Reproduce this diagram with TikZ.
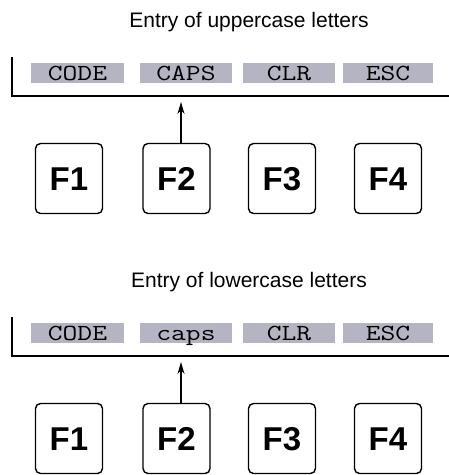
\documentclass[tikz,border=0pt]{standalone}
\usepackage{fontspec}
\setmainfont{Liberation Sans}
\newfontfamily\keyfont{Latin Modern Mono}[FakeStretch=1.25]
\usepackage{tikz}
\usetikzlibrary{arrows.meta}

\begin{document}
\begin{tikzpicture}[>={Stealth[length=12pt,width=7pt]},x=1pt,y=-1pt,
    title/.style={font={\fontsize{21}{24}\selectfont}},
    softkey/.style={rectangle,fill=softgray,inner sep=0pt,minimum height=20pt,
        text height=14pt,text depth=0pt,font={\keyfont\fontsize{23}{26}\selectfont}},
    fkey/.style={rectangle,draw,rounded corners=5pt,line width=1.4pt,inner sep=0pt,
        text height=24pt,text depth=0pt,
        minimum width=67pt,minimum height=70pt,font={\bfseries\fontsize{33}{36}\selectfont}}]
    \definecolor{softgray}{RGB}{181,180,194}
    \useasboundingbox (0,0) rectangle (449,475);
    
    \foreach \p/\dy/\case/\capsname in {u/0/uppercase/CAPS, l/260/lowercase/caps}{
        \node[title] (t\p) at (249,22+\dy) {Entry of \case\ letters};
        
        \foreach \i/\x/\w/\name in {1/77.5/93/CODE, 2/186/92/\capsname, 3/289/92/CLR, 4/388/90/ESC}{
            \node[softkey,minimum width=\w] (s\p\i) at (\x,73+\dy){\name};
        }
        
        \foreach \i/\x in {1/69,2/176.5,3/282,4/388}{
            \node[fkey] (f\p\i) at (\x,178.5+\dy){F\i};
        }
        
        % Klammer unter der Softkey-Zeile
        \coordinate (a\p) at (12,57+\dy);
        \coordinate (b\p) at (449,96+\dy);
        \draw[line width=1.1pt] (a\p) |- (b\p);
        
        \coordinate (tip\p) at (181,102+\dy);
        \draw[->,line width=1.1pt] (f\p2.north -| tip\p) -- (tip\p);
    }
\end{tikzpicture}
\end{document}
